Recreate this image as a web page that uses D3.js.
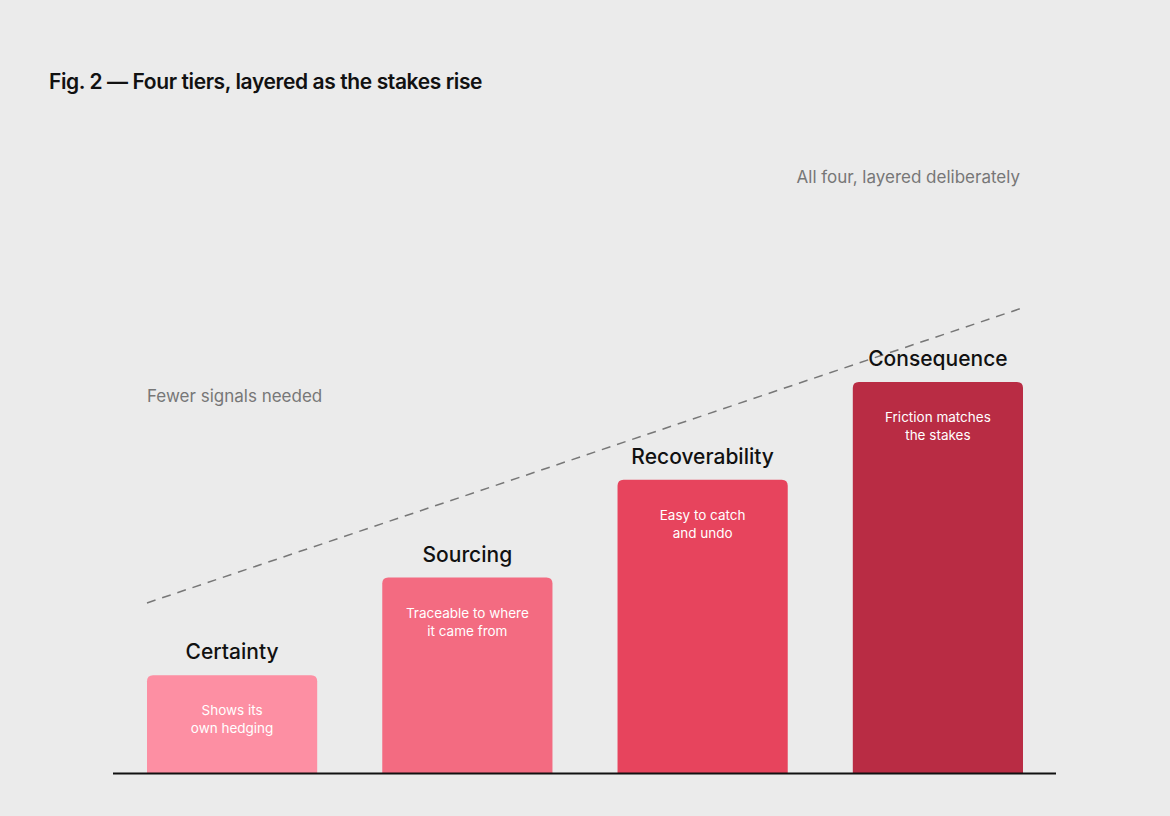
<!DOCTYPE html>
<html><head><meta charset="utf-8">
<script src="https://cdn.jsdelivr.net/npm/d3@7"></script>
<style>body{margin:0;background:#ebebeb;font-family:Inter,"Noto Sans",sans-serif}</style>
</head><body><svg id="chart" width="1170" height="816"></svg>
<script>
// tiers, stakes level, inner notes, colors
const tiers = ['Certainty', 'Sourcing', 'Recoverability', 'Consequence'];
const levels = [1, 2, 3, 4];
const notes = [['Shows its', 'own hedging'], ['Traceable to where', 'it came from'], ['Easy to catch', 'and undo'], ['Friction matches', 'the stakes']];
const colors = ['#fd8fa3', '#f36b81', '#e7445d', '#b92c44'];
const trendLevels = [1.74, 4.76];

const svg = d3.select('#chart');
svg.append('rect').attr('width', 1170).attr('height', 816).attr('fill', '#ebebeb');

const x = d3.scaleBand().domain(tiers).range([147, 1023]).paddingInner(65 / 235).paddingOuter(0);
const y = d3.scaleLinear().domain([0, 4]).range([773, 382]);

svg.append('text').attr('x', 49).attr('y', 89).attr('font-size', 21).attr('font-weight', 600)
    .attr('letter-spacing', -0.4).attr('fill', '#111').text('Fig. 2 — Four tiers, layered as the stakes rise');

// dashed trend line
svg.append('line')
    .attr('x1', x(tiers[0])).attr('y1', y(trendLevels[0]))
    .attr('x2', x(tiers[3]) + x.bandwidth()).attr('y2', y(trendLevels[1]))
    .attr('stroke', '#777').attr('stroke-width', 1.5).attr('stroke-dasharray', '9,7');

svg.append('text').attr('x', 147).attr('y', 402).attr('font-size', 17).attr('fill', '#777').text('Fewer signals needed');
svg.append('text').attr('x', 1020).attr('y', 183).attr('text-anchor', 'end').attr('font-size', 17).attr('fill', '#777').text('All four, layered deliberately');

const g = svg.selectAll('g.bar').data(tiers).join('g').attr('class', 'bar');
g.append('path')
    .attr('d', (d, i) => {
        const x0 = x(d), x1 = x0 + x.bandwidth(), t = y(levels[i]), b = y(0), r = 6;
        return `M${x0},${b}V${t + r}Q${x0},${t} ${x0 + r},${t}H${x1 - r}Q${x1},${t} ${x1},${t + r}V${b}Z`;
    })
    .attr('fill', (d, i) => colors[i]);
g.append('text')
    .attr('x', d => x(d) + x.bandwidth() / 2).attr('y', (d, i) => y(levels[i]) - 16)
    .attr('text-anchor', 'middle').attr('font-size', 21).attr('font-weight', 500).attr('fill', '#111').text(d => d);
g.each(function(d, i) {
    const t = d3.select(this).append('text').attr('text-anchor', 'middle').attr('font-size', 13.5).attr('fill', '#fff');
    notes[i].forEach((line, k) => t.append('tspan').attr('x', x(d) + x.bandwidth() / 2)
        .attr('y', y(levels[i]) + 40 + k * 18).text(line));
});

svg.append('line').attr('x1', 113).attr('x2', 1056).attr('y1', 773.5).attr('y2', 773.5).attr('stroke', '#111').attr('stroke-width', 2);
</script></body></html>
